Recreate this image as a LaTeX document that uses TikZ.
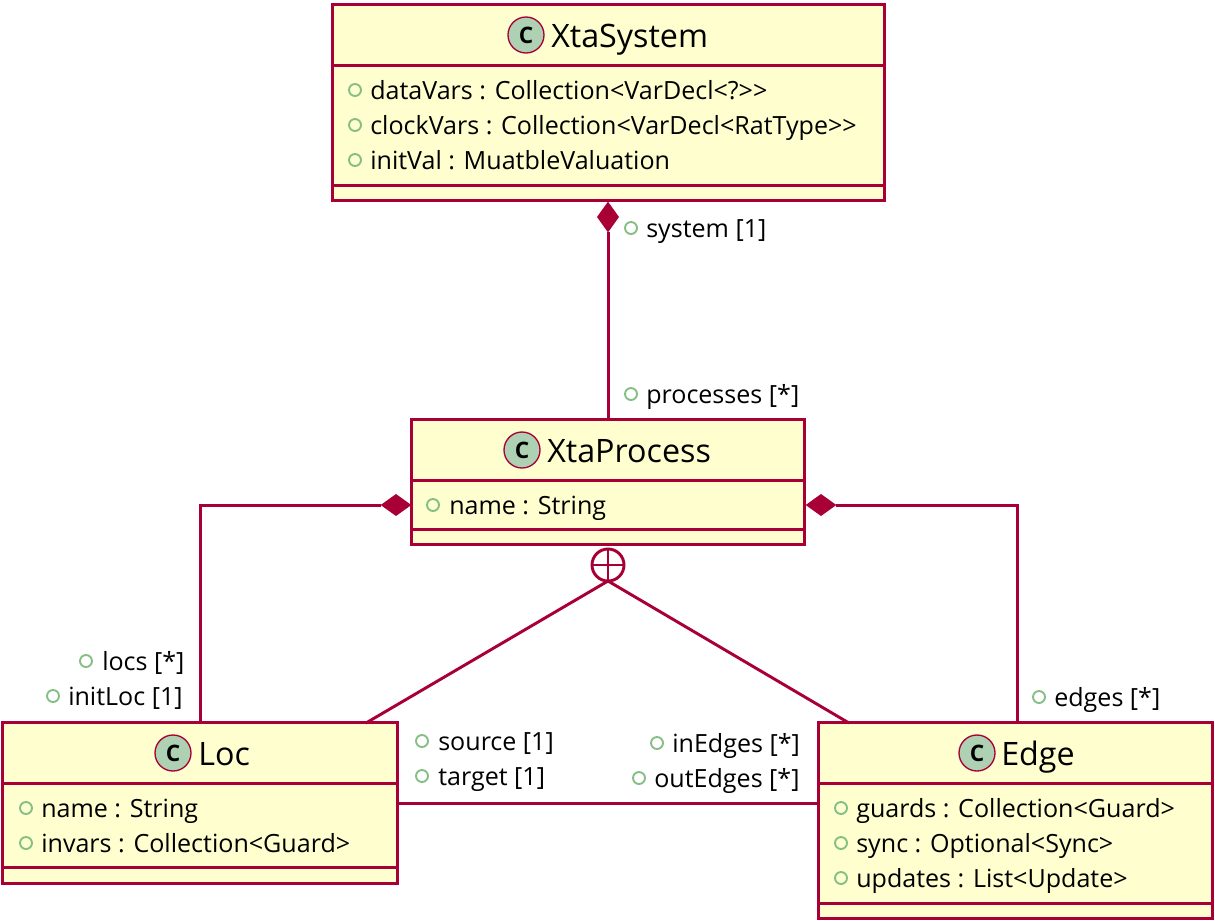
\documentclass[tikz,border=0pt]{standalone}
\usepackage{fontspec}
\setmainfont{Open Sans}
\usetikzlibrary{shapes.geometric}
\definecolor{umlline}{HTML}{A80036}
\definecolor{umlfill}{HTML}{FEFECE}
\definecolor{umlicon}{HTML}{ADD1B2}
\definecolor{umlbullet}{HTML}{84BE84}
\tikzset{
  x=0.75pt,y=-0.75pt,
  classbox/.style={draw=umlline,fill=umlfill,line width=2.25pt,inner sep=0pt,outer sep=0pt,rectangle},
  sepline/.style={draw=umlline,line width=2.25pt},
  conn/.style={draw=umlline,line width=2.2pt},
  orth/.style={draw=umlline,line width=2.25pt},
  compv/.style={diamond,aspect=0.73,draw=none,fill=umlline,inner sep=0pt,outer sep=0pt,minimum width=16.5pt,minimum height=23pt},
  comph/.style={diamond,aspect=1.36,draw=none,fill=umlline,inner sep=0pt,outer sep=0pt,minimum width=23pt,minimum height=16.5pt},
  iconc/.style={circle,draw=umlline,line width=1pt,fill=umlicon,minimum size=27pt,inner sep=0pt,font=\fontsize{17}{17}\selectfont\bfseries},
  titletext/.style={anchor=base west,inner sep=0pt,font=\fontsize{24.2}{24}\selectfont},
  attrtext/.style={anchor=base west,inner sep=0pt,font=\fontsize{18.8}{18}\selectfont},
  bullet/.style={circle,draw=umlbullet,line width=1.4pt,minimum size=9pt,inner sep=0pt},
  nest/.style={circle,draw=umlline,line width=2.2pt,minimum size=24pt,inner sep=0pt,outer sep=0pt,fill=white},
}
% \umlbox{name}{x1}{y1}{x2}{y2}{sep1}{sep2}
\newcommand{\umlbox}[7]{%
  \node[classbox,minimum width={(#4-#2)*0.75pt},minimum height={(#5-#3)*0.75pt}] (#1) at ({(#2+#4)/2},{(#3+#5)/2}) {};
  \draw[sepline] (#2,#6) -- (#4,#6);
  \draw[sepline] (#2,#7) -- (#4,#7);
}
\newcommand{\umltitle}[5]{% name, icon x, text x, y, text
  \node[iconc] (#1icon) at (#2,#4) {C};
  \node[titletext] (#1title) at (#3,#4+12) {#5};
}
\newcommand{\umlattr}[5]{% name, bullet x, text x, y, text
  \node[bullet] (#1b) at (#2,#4) {};
  \node[attrtext] (#1t) at (#3,#4+9.6) {#5};
}
\begin{document}
\begin{tikzpicture}
\useasboundingbox (0,0) rectangle (1215,921);
\fill[white] (0,0) rectangle (1215,921);
% classes
\umlbox{sys}{332.8}{4.8}{884.8}{200.8}{65.8}{185.8}
\umlbox{proc}{411.8}{419.8}{804.8}{544.8}{480.8}{529.8}
\umlbox{loc}{2.8}{722.8}{397.8}{883.8}{783.8}{867.8}
\umlbox{edge}{818.8}{722.8}{1212.8}{918.8}{783.8}{903.8}
% end decorations
\node[compv] (dsys) at (608,217) {};
\node[comph] (dloc) at (396,505) {};
\node[comph] (dedge) at (821,505) {};
\node[nest] (nst) at (608,565) {};
\draw[conn] (nst.north) -- (nst.south);
\draw[conn] (nst.west) -- (nst.east);
% connectors
\draw[orth] (dsys) -- (proc.north -| dsys);
\draw[orth] (dloc.west) -| (loc.north -| 200,0);
\draw[orth] (dedge.east) -| (edge.north -| 1017,0);
\coordinate (locin) at (366,723);
\coordinate (edgein) at (849,723);
\draw[conn] (nst.south) -- (locin);
\draw[conn] (nst.south) -- (edgein);
\draw[orth] (loc.east |- 0,803) -- (edge.west |- 0,803);
% titles
\umltitle{sys}{526}{551}{35}{XtaSystem}
\umltitle{proc}{522}{547}{450}{XtaProcess}
\umltitle{loc}{173}{198}{753}{Loc}
\umltitle{edge}{977}{1001}{753}{Edge}
% attributes
\umlattr{a1}{355}{370}{90}{dataVars : Collection<VarDecl<?>{}>}
\umlattr{a2}{355}{370}{125}{clockVars : Collection<VarDecl<RatType>{}>}
\umlattr{a3}{355}{370}{160}{initVal : MuatbleValuation}
\umlattr{a4}{631}{646}{228}{system [1]}
\umlattr{a5}{631}{646}{394}{processes [*]}
\umlattr{a6}{433}{449}{505}{name : String}
\umlattr{a7}{86}{102}{661}{locs [*]}
\umlattr{a8}{53}{68}{696}{initLoc [1]}
\umlattr{a9}{26}{41}{808}{name : String}
\umlattr{a10}{26}{41}{843}{invars : Collection<Guard>}
\umlattr{a11}{422}{438}{741}{source [1]}
\umlattr{a12}{422}{438}{776}{target [1]}
\umlattr{a13}{657}{672}{743}{inEdges [*]}
\umlattr{a14}{639}{654}{778}{outEdges [*]}
\umlattr{a15}{1039}{1054}{697}{edges [*]}
\umlattr{a16}{841}{856}{808}{guards : Collection<Guard>}
\umlattr{a17}{841}{856}{843}{sync : Optional<Sync>}
\umlattr{a18}{841}{856}{878}{updates : List<Update>}
\end{tikzpicture}
\end{document}
